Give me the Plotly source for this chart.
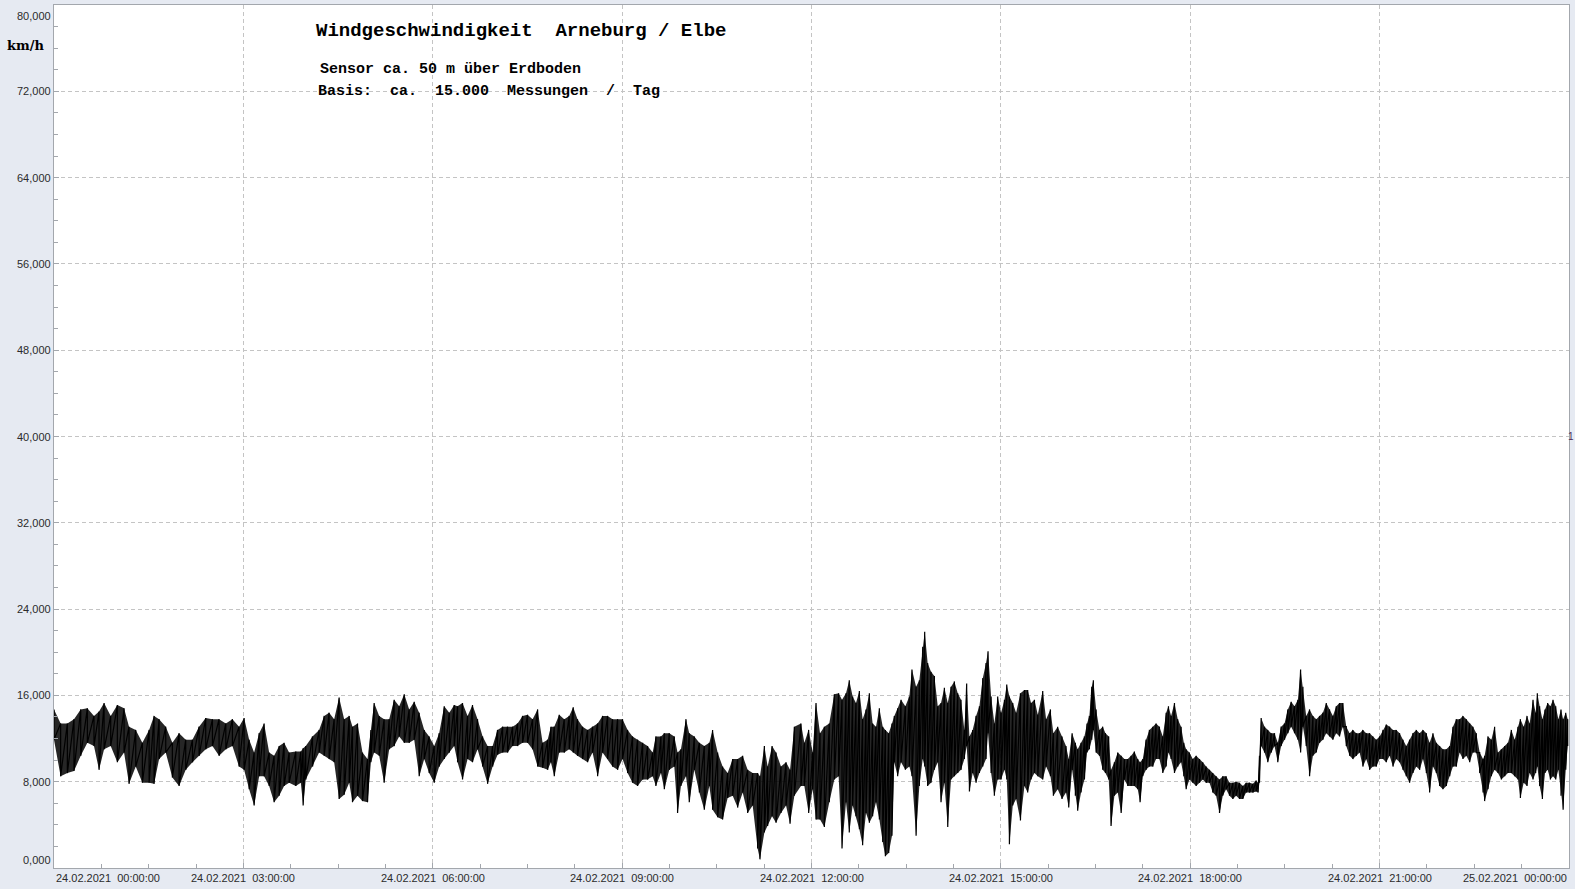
import pandas as pd
import plotly.graph_objects as go

# ---------------- data ----------------
# time in minutes after 24.02.2021 00:00, upper / lower envelope of wind speed in km/h
T_MIN = [
    0.0, 6.3, 12.7, 19.0, 25.4, 31.7, 38.0, 42.8, 47.6, 53.9,
    60.2, 66.6, 71.3, 77.7, 84.0, 90.4, 95.1, 99.9, 106.2, 112.5,
    118.9, 125.2, 131.6, 137.9, 144.2, 150.6, 156.9, 163.3, 169.6, 175.9,
    180.7, 185.5, 190.2, 195.0, 199.7, 204.5, 209.2, 214.0, 218.7, 223.5,
    229.8,
    234.6, 236.8, 239.3, 245.7, 252.0, 256.8, 261.5, 266.3, 271.0, 275.8,
    280.6, 283.7, 288.5, 293.2, 298.0, 301.2, 304.3, 309.1, 313.8, 318.6,
    323.3, 328.1, 332.9, 337.6, 342.4, 347.1, 351.9, 356.6, 361.4, 366.1,
    370.9, 375.7, 380.4, 383.6, 388.3, 393.1, 397.8, 402.6, 407.4, 412.1,
    416.9, 421.6, 426.4, 431.1, 435.9, 440.6, 445.4, 450.1, 454.9, 459.7,
    464.4, 469.2,
    472.3, 475.5, 480.2, 485.0, 489.7, 493.5, 497.6, 502.4, 507.2, 511.9,
    516.7, 521.4, 526.2, 530.9, 535.7, 540.4, 545.2, 549.9, 554.7, 559.5,
    564.2, 569.0, 572.1, 576.9, 580.1, 584.8, 589.6, 592.7, 595.9, 600.7,
    603.8, 608.6, 613.4, 618.1, 622.9, 626.0, 630.8, 635.5, 640.3, 645.1,
    649.8, 654.6, 659.3, 664.1, 668.8, 671.0, 675.2, 678.3, 682.5, 686.3,
    691.0, 695.8, 699.6, 703.7,
    710.0, 713.2, 717.3, 721.1, 724.3, 728.1, 732.2, 736.9, 741.7, 745.8,
    749.0, 752.8, 755.9, 759.1, 762.3, 765.5, 768.6, 771.8, 775.0, 778.1,
    781.3, 784.5, 787.7, 790.2, 793.4, 796.5, 798.7, 801.9, 805.1, 809.2,
    813.0, 815.5, 819.4, 822.5, 825.7, 827.6, 830.4, 833.6, 836.8, 840.0,
    843.1, 846.3, 849.5, 852.6, 855.8, 859.0, 862.1, 865.3, 867.5, 870.1,
    873.2, 876.4, 879.6, 882.8, 885.9, 887.8, 890.7, 893.8, 897.0, 900.2,
    903.4, 905.6, 908.1, 911.3, 914.5, 918.6, 922.4, 925.5, 928.7, 931.9,
    935.1, 939.8, 943.0,
    947.1, 949.9, 954.0, 958.1, 961.9, 964.5, 967.7, 970.8, 973.0, 976.2,
    979.4, 981.9, 984.1, 986.4, 987.9, 990.5, 993.7, 996.8, 999.4, 1002.5,
    1004.7, 1007.9, 1011.1, 1014.3, 1017.4, 1020.6, 1023.8, 1026.9, 1030.1, 1032.3,
    1034.9, 1038.0, 1041.2, 1044.4, 1047.5, 1050.7, 1053.9, 1057.1, 1059.3, 1061.8,
    1065.0, 1068.1, 1071.3, 1073.9, 1076.1, 1079.2, 1082.4, 1085.6, 1088.8, 1091.9,
    1095.1, 1098.3, 1101.4, 1104.6, 1107.8, 1110.9, 1114.1, 1117.3, 1120.5, 1123.6,
    1126.8, 1130.0, 1133.1, 1136.3, 1139.5, 1142.6, 1144.5, 1145.8, 1147.4, 1150.6,
    1153.7, 1156.9, 1160.1, 1163.2, 1166.4, 1169.6, 1172.8, 1175.9, 1179.1, 1182.3,
    1184.9, 1187.1, 1190.2, 1193.4, 1196.6, 1199.8, 1202.9, 1206.1, 1209.3, 1212.4,
    1215.6, 1218.8, 1221.9, 1225.1, 1228.3, 1231.5, 1234.6, 1237.8, 1241.0, 1244.1,
    1247.3, 1250.5, 1253.6, 1256.8, 1260.0, 1263.2, 1266.3, 1269.5, 1272.7, 1275.8,
    1279.0, 1282.2, 1285.3, 1288.5, 1291.7, 1294.9, 1298.0, 1301.2, 1304.4, 1307.5,
    1310.7, 1313.9, 1317.0, 1320.2, 1323.4, 1326.6, 1329.7, 1332.9, 1336.1, 1339.2,
    1342.4, 1345.6, 1348.7, 1351.9, 1355.1, 1358.3, 1359.8, 1363.0, 1366.2, 1369.3,
    1372.5, 1375.7, 1378.9, 1382.0, 1385.2, 1388.4, 1391.5, 1393.8, 1396.9, 1400.1,
    1402.6, 1405.8, 1408.3, 1409.9, 1412.1, 1414.7, 1417.2, 1419.7, 1422.3, 1424.8,
    1427.4, 1429.9, 1432.4, 1434.4, 1436.9, 1438.8,
]

HI = [
    14.7, 13.4, 13.4, 13.8, 14.7, 14.8, 14.1, 14.5, 15.3, 14.1,
    15.1, 14.8, 13.1, 12.8, 11.6, 12.8, 14.1, 13.8, 13.1, 11.6,
    12.5, 11.9, 11.9, 13.1, 13.9, 13.8, 13.8, 13.4, 13.8, 13.1,
    13.9, 11.9, 10.7, 12.5, 13.4, 10.7, 10.4, 11.3, 11.6, 10.7,
    10.8,
    10.8, 11.1, 11.3, 12.2, 12.8, 14.1, 14.4, 13.8, 15.8, 13.8,
    14.1, 13.1, 13.4, 10.7, 10.1, 12.8, 15.3, 14.1, 13.8, 13.8,
    15.6, 15.0, 16.1, 14.7, 15.4, 14.4, 12.8, 12.2, 11.3, 12.5,
    15.0, 14.4, 15.1, 15.0, 15.3, 14.1, 15.1, 13.8, 12.2, 11.3,
    11.3, 12.8, 13.1, 13.1, 13.1, 13.4, 14.1, 14.2, 13.8, 14.7,
    11.6, 11.9,
    13.1, 13.1, 14.2, 13.8, 14.1, 14.9, 13.8, 13.1, 12.8, 13.1,
    13.4, 14.1, 14.1, 13.8, 13.8, 13.8, 12.8, 12.2, 11.9, 11.6,
    11.3, 10.7, 12.2, 12.2, 12.5, 12.5, 12.2, 10.7, 11.0, 13.8,
    12.5, 12.2, 11.6, 11.3, 11.6, 12.8, 10.7, 9.4, 8.8, 10.1,
    10.1, 10.4, 9.1, 8.8, 8.8, 8.5, 11.3, 9.4, 11.3, 10.7,
    9.4, 9.8, 9.1, 13.1,
    13.4, 11.6, 12.8, 10.7, 15.3, 12.5, 13.1, 13.4, 16.1, 16.2,
    15.6, 16.2, 17.4, 15.9, 15.3, 16.4, 13.8, 14.7, 16.2, 13.4,
    13.1, 14.8, 13.1, 12.8, 12.5, 13.4, 14.1, 14.8, 15.6, 15.0,
    15.9, 18.4, 16.8, 17.4, 20.5, 21.9, 19.0, 18.2, 17.8, 15.0,
    15.3, 16.7, 15.3, 16.8, 17.3, 16.2, 15.6, 12.8, 17.1, 12.2,
    12.8, 14.1, 15.0, 17.6, 19.0, 20.1, 15.9, 13.4, 15.9, 14.4,
    15.6, 17.0, 15.9, 15.3, 14.4, 16.2, 16.5, 16.5, 15.3, 15.6,
    14.2, 16.4, 13.8,
    14.7, 12.5, 13.1, 12.2, 11.3, 10.1, 12.5, 11.6, 11.0, 11.6,
    12.2, 13.4, 14.1, 16.8, 17.4, 14.7, 12.8, 13.1, 12.5, 12.2,
    9.1, 9.8, 10.7, 10.4, 10.1, 10.1, 10.4, 10.8, 10.1, 9.8,
    10.1, 11.9, 12.8, 13.1, 13.4, 13.1, 12.2, 14.4, 15.0, 14.1,
    15.3, 13.8, 13.1, 11.6, 11.0, 10.7, 10.1, 10.4, 10.1, 9.8,
    9.4, 9.1, 8.8, 8.5, 8.2, 8.5, 8.5, 7.9, 7.9, 8.0,
    7.9, 7.6, 7.9, 7.9, 7.8, 8.1, 7.9, 10.4, 13.9, 13.1,
    12.8, 12.5, 12.5, 11.6, 13.1, 13.4, 14.7, 15.4, 15.0, 15.6,
    18.4, 16.8, 14.1, 14.7, 14.1, 13.8, 14.1, 14.4, 15.3, 14.7,
    14.1, 15.0, 15.3, 15.3, 13.1, 12.5, 12.8, 12.5, 12.5, 12.8,
    12.5, 12.5, 12.2, 11.9, 12.2, 12.8, 13.3, 13.1, 12.8, 12.8,
    12.5, 11.9, 11.3, 11.9, 12.5, 12.8, 12.5, 12.8, 12.5, 11.6,
    12.5, 11.6, 11.3, 11.0, 11.0, 11.3, 13.1, 13.8, 13.8, 14.1,
    13.8, 13.4, 13.1, 12.5, 10.7, 10.1, 10.4, 12.2, 11.9, 13.1,
    10.7, 11.0, 11.3, 11.6, 12.8, 11.9, 13.1, 13.8, 13.1, 14.1,
    13.4, 15.6, 14.4, 16.2, 15.0, 13.8, 14.7, 15.3, 15.0, 15.6,
    15.0, 13.8, 14.7, 13.8, 14.4, 13.8,
]

LO = [
    11.9, 8.5, 8.8, 9.0, 10.4, 11.6, 11.3, 9.1, 11.0, 11.3,
    9.8, 10.7, 7.8, 9.4, 7.9, 7.9, 7.8, 10.1, 10.7, 8.4,
    7.6, 9.1, 9.8, 10.4, 11.0, 11.3, 10.4, 11.0, 11.3, 9.4,
    9.1, 7.3, 5.8, 8.5, 8.5, 7.6, 6.1, 6.7, 7.6, 7.9,
    7.6,
    7.9, 5.8, 8.2, 9.4, 10.7, 10.4, 10.1, 9.8, 6.4, 6.8,
    7.9, 6.1, 6.7, 6.2, 6.1, 9.8, 10.7, 10.4, 7.9, 11.0,
    11.3, 12.2, 11.6, 11.6, 11.9, 8.5, 10.1, 8.8, 7.9, 9.4,
    10.1, 10.7, 11.3, 9.8, 8.2, 10.1, 9.8, 11.0, 9.4, 7.8,
    9.4, 10.5, 10.7, 10.7, 11.3, 11.3, 11.6, 11.6, 11.0, 9.4,
    9.3, 9.1,
    9.8, 8.5, 10.7, 10.7, 11.0, 10.7, 10.4, 10.1, 9.8, 10.7,
    8.5, 10.7, 10.1, 9.4, 9.1, 10.1, 8.8, 7.9, 7.6, 8.2,
    8.2, 8.5, 7.6, 8.8, 7.3, 9.1, 9.4, 5.1, 7.6, 8.5,
    6.1, 9.1, 7.0, 5.4, 7.6, 5.4, 4.7, 4.5, 6.5, 6.7,
    5.6, 7.0, 5.1, 5.8, 1.8, 0.8, 3.3, 3.9, 4.8, 4.2,
    5.1, 5.8, 4.1, 6.7,
    7.6, 7.6, 5.1, 7.3, 4.5, 4.5, 3.8, 6.1, 8.2, 8.5,
    1.8, 6.1, 3.3, 5.8, 4.8, 3.6, 2.1, 5.1, 4.2, 4.8,
    6.1, 4.5, 2.4, 1.1, 1.4, 3.0, 9.8, 8.5, 9.8, 9.1,
    9.4, 8.5, 3.0, 7.6, 10.1, 9.4, 7.6, 7.9, 9.1, 9.8,
    6.1, 7.9, 3.8, 8.2, 8.5, 8.8, 9.1, 10.1, 11.3, 7.1,
    8.8, 7.9, 8.8, 9.4, 10.1, 12.5, 8.8, 6.7, 8.2, 8.2,
    9.1, 8.2, 2.2, 5.8, 6.4, 4.4, 7.6, 7.0, 8.2, 8.8,
    8.5, 8.2, 9.4,
    8.5, 6.7, 7.3, 6.4, 7.0, 5.6, 9.1, 6.7, 5.3, 7.0,
    8.2, 10.7, 11.0, 11.9, 12.8, 10.7, 10.4, 9.1, 8.8, 8.2,
    3.9, 6.7, 7.0, 5.1, 8.2, 7.6, 7.6, 7.6, 7.3, 6.1,
    8.5, 9.1, 9.4, 9.4, 10.1, 10.1, 8.8, 9.4, 10.7, 10.1,
    8.8, 9.4, 9.8, 8.5, 7.3, 8.2, 7.9, 7.6, 7.9, 8.2,
    7.9, 7.9, 7.0, 6.7, 5.1, 6.7, 7.3, 6.7, 6.4, 6.7,
    6.4, 6.4, 7.0, 7.0, 7.0, 7.1, 7.0, 7.9, 11.3, 10.7,
    9.8, 10.7, 11.3, 9.8, 11.3, 11.9, 12.5, 13.1, 12.5, 11.9,
    10.7, 13.1, 11.3, 8.5, 10.4, 10.7, 11.6, 11.9, 12.5, 12.2,
    11.9, 12.5, 12.2, 13.1, 11.3, 10.4, 10.1, 10.4, 10.7, 9.4,
    10.1, 9.1, 9.4, 9.4, 10.1, 10.1, 9.8, 10.4, 9.4, 10.1,
    9.8, 9.1, 8.5, 7.9, 8.8, 9.4, 9.1, 10.1, 8.8, 7.0,
    9.4, 8.8, 7.6, 7.3, 7.6, 8.5, 9.4, 9.4, 10.7, 10.1,
    10.4, 9.8, 10.7, 10.7, 8.8, 7.0, 6.2, 7.3, 8.5, 9.1,
    8.8, 8.2, 8.5, 8.8, 8.8, 8.5, 8.2, 6.5, 7.9, 7.6,
    8.8, 8.2, 8.8, 9.4, 7.6, 6.4, 8.8, 9.1, 8.2, 8.5,
    8.2, 9.1, 6.7, 5.4, 9.1, 11.3,
]

Y_TICKS = [0, 8, 16, 24, 32, 40, 48, 56, 64, 72, 80]
X_TICK_HOURS = [0, 3, 6, 9, 12, 15, 18, 21, 24]
NB = "\u00a0"
X_TICK_LABELS = [
    "24.02.2021" + NB * 2 + "00:00:00",
    "24.02.2021" + NB * 2 + "03:00:00",
    "24.02.2021" + NB * 2 + "06:00:00",
    "24.02.2021" + NB * 2 + "09:00:00",
    "24.02.2021" + NB * 2 + "12:00:00",
    "24.02.2021" + NB * 2 + "15:00:00",
    "24.02.2021" + NB * 2 + "18:00:00",
    "24.02.2021" + NB * 2 + "21:00:00",
    "25.02.2021" + NB * 2 + "00:00:00",
]

TITLE = "Windgeschwindigkeit" + NB * 2 + "Arneburg / Elbe"
SUB1 = "Sensor ca. 50 m über Erdboden"
SUB2 = ("Basis:" + NB * 2 + "ca." + NB * 2 + "15.000" + NB * 2 + "Messungen"
        + NB * 2 + "/" + NB * 2 + "Tag")
UNIT = "km/h"

# ---------------- figure ----------------
base = pd.Timestamp("2021-02-24 00:00:00")
times = [base + pd.Timedelta(minutes=t) for t in T_MIN]

# vertical stroke from high to low at every reading
saw_x, saw_y = [], []
for ts, h, l in zip(times, HI, LO):
    saw_x += [ts, ts]
    saw_y += [h, l]

fig = go.Figure()
# dense envelope band (lower edge first, then upper edge filled to it)
fig.add_trace(go.Scatter(x=times, y=LO, mode="lines", line=dict(width=0),
                         hoverinfo="skip", showlegend=False))
fig.add_trace(go.Scatter(x=times, y=HI, mode="lines", line=dict(width=0),
                         fill="tonexty", fillcolor="rgba(0,0,0,0.85)",
                         hoverinfo="skip", showlegend=False))
fig.add_trace(go.Scatter(x=saw_x, y=saw_y, mode="lines",
                         line=dict(color="#000000", width=1.2),
                         hoverinfo="skip", showlegend=False))

AX = "#a3a7ad"
GRID = "#c4c4c4"
fig.update_layout(
    width=1575, height=889,
    margin=dict(l=54, r=6, t=5, b=21, autoexpand=False),
    paper_bgcolor="#e6eaf2",
    plot_bgcolor="#ffffff",
    showlegend=False,
    xaxis=dict(
        type="date",
        range=[base, base + pd.Timedelta(hours=24)],
        tickmode="linear", tick0=base, dtick=3 * 3600 * 1000,
        showgrid=True, gridcolor=GRID, griddash="4px,3px", gridwidth=1,
        ticks="inside", ticklen=5, tickcolor=AX,
        showticklabels=False,
        showline=True, linecolor=AX, linewidth=1, mirror=True,
        zeroline=False,
        minor=dict(tick0=base, dtick=45 * 60 * 1000, ticks="inside",
                   ticklen=4, tickcolor=AX, showgrid=False),
    ),
    yaxis=dict(
        range=[0, 80], tickmode="linear", tick0=0, dtick=8,
        showgrid=True, gridcolor=GRID, griddash="4px,3px", gridwidth=1,
        ticks="inside", ticklen=5, tickcolor=AX,
        showticklabels=False,
        showline=True, linecolor=AX, linewidth=1, mirror=True,
        zeroline=False,
        minor=dict(tick0=0, dtick=2, ticks="inside", ticklen=4,
                   tickcolor=AX, showgrid=False),
    ),
)

# white box behind the heading texts
fig.add_shape(type="rect", xref="paper", yref="paper",
              x0=0.1644, x1=0.4495, y0=0.889, y1=0.992,
              fillcolor="#ffffff", line=dict(width=0), layer="between")

ann = []
tick_font = dict(family="Liberation Sans, Arial, sans-serif", size=11, color="#2b2b2b")
for k, (hr, lab) in enumerate(zip(X_TICK_HOURS, X_TICK_LABELS)):
    anchor = "left" if k == 0 else ("right" if k == len(X_TICK_HOURS) - 1 else "center")
    ann.append(dict(x=base + pd.Timedelta(hours=hr), xref="x", y=0, yref="paper",
                    text=lab, showarrow=False, xanchor=anchor, yanchor="top",
                    yshift=-2, font=tick_font))
for v in Y_TICKS:
    if v == Y_TICKS[-1]:
        ya, sh = "top", -3
    elif v == Y_TICKS[0]:
        ya, sh = "bottom", 0
    else:
        ya, sh = "middle", 0
    ann.append(dict(x=0, xref="paper", y=v, yref="y",
                    text=f"{v:.3f}".replace(".", ","), showarrow=False,
                    xanchor="right", yanchor=ya, xshift=-1, yshift=sh,
                    font=tick_font))

mono = "Liberation Mono, Courier New, monospace"
ann.append(dict(x=0.1716, xref="paper", y=0.970, yref="paper", text=f"<b>{TITLE}</b>",
                showarrow=False, xanchor="left", yanchor="middle",
                font=dict(family=mono, size=19, color="#000000")))
ann.append(dict(x=0.1743, xref="paper", y=0.9247, yref="paper", text=f"<b>{SUB1}</b>",
                showarrow=False, xanchor="left", yanchor="middle",
                font=dict(family=mono, size=15, color="#000000")))
ann.append(dict(x=0.1729, xref="paper", y=0.9003, yref="paper", text=f"<b>{SUB2}</b>",
                showarrow=False, xanchor="left", yanchor="middle",
                font=dict(family=mono, size=15, color="#000000")))
ann.append(dict(x=-0.0185, xref="paper", y=0.9525, yref="paper", text=f"<b>{UNIT}</b>",
                showarrow=False, xanchor="center", yanchor="middle",
                font=dict(family="DejaVu Serif, Liberation Serif, serif", size=13,
                          color="#000000")))
ann.append(dict(x=1, xref="paper", y=40, yref="y", text="1", showarrow=False,
                xanchor="left", yanchor="middle", xshift=-3,
                font=dict(family="Liberation Sans, Arial, sans-serif", size=10,
                          color="#4a2a5a")))
fig.update_layout(annotations=ann)

fig.write_html(
    "out.html",
    config={"displayModeBar": False},
    post_script="document.body.style.margin='0';document.body.style.overflow='hidden';",
)
